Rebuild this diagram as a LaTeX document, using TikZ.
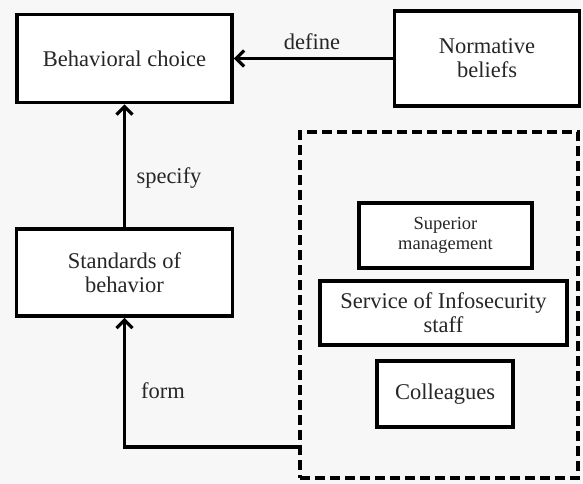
\documentclass[tikz,border=0pt]{standalone}
\usepackage{fontspec}
\setmainfont{Liberation Serif}
\usetikzlibrary{arrows.meta}
\begin{document}
\begin{tikzpicture}[x=1pt,y=-1pt,
  box/.style={draw=black, line width=3.6pt, fill=white, align=center, inner sep=0pt,
    text=black!85, font=\fontsize{22.5}{24}\selectfont},
  smallbox/.style={box, font=\fontsize{18.5}{20}\selectfont},
  grpbox/.style={draw=black, line width=3.2pt, dash pattern=on 10pt off 5pt, inner sep=0pt},
  lbl/.style={text=black!85, font=\fontsize{22.5}{24}\selectfont, inner sep=0pt},
  arr/.style={line width=3.2pt, -{Straight Barb[length=8pt,width=16pt,line width=3.2pt]}}]
\fill[white!97!black] (0,0) rectangle (583,484);
\useasboundingbox (0,0) rectangle (583,484);

\node[grpbox, minimum width=278, minimum height=346] (grp) at (439,305) {};

\node[box, minimum width=215, minimum height=88] (beh) at (124.5,58.5) {Behavioral choice};
\node[box, minimum width=185, minimum height=95] (norm) at (487,58.5) {Normative\\beliefs};
\node[box, minimum width=216, minimum height=87] (std) at (124.5,272.5) {Standards of\\behavior};
\node[smallbox, minimum width=173, minimum height=65] (sup) at (445.5,235.5) {Superior\\management};
\node[box, minimum width=247, minimum height=64] (svc) at (443.5,313) {Service of Infosecurity\\staff};
\node[box, minimum width=136, minimum height=66] (col) at (445,394) {Colleagues};

\draw[arr] (norm.west) -- (beh.east);
\draw[arr] (std.north) -- (beh.south);
\coordinate (f) at (300,447);
\draw[arr] (f) -| (std.south);

\node[lbl] (ldef) at (312,42) {define};
\node[lbl] (lspec) at (169,178) {specify};
\node[lbl] (lform) at (163,391) {form};
\end{tikzpicture}
\end{document}
